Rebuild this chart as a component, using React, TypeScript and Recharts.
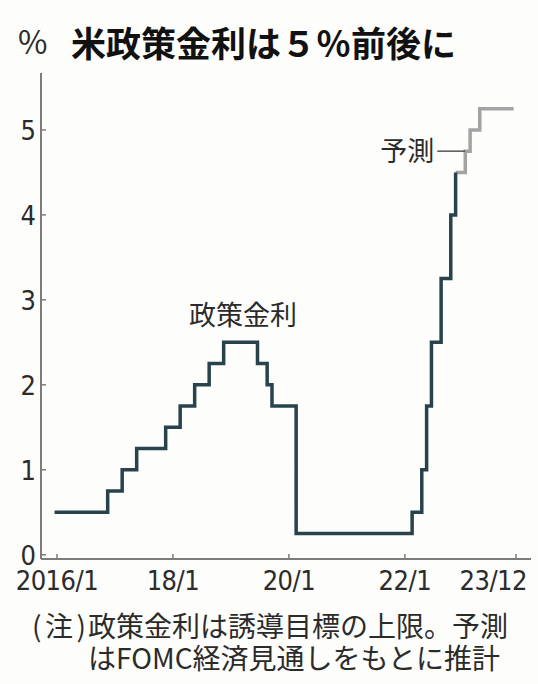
import { LineChart, Line, XAxis, YAxis, ReferenceLine, ReferenceDot } from 'recharts'

// months counted from 2016/1 (= 0); each change takes effect at the start of its month
const policyMonths = [0, 11, 14, 17, 23, 26, 29, 32, 35, 42, 44, 45, 50, 74, 76, 77, 78, 80, 82, 83]
const policyRates = [0.5, 0.75, 1.0, 1.25, 1.5, 1.75, 2.0, 2.25, 2.5, 2.25, 2.0, 1.75, 0.25, 0.5, 1.0, 1.75, 2.5, 3.25, 4.0, 4.5]
const forecastMonths = [83, 85, 86, 88, 95]
const forecastRates = [4.5, 4.75, 5.0, 5.25, 5.25]

// labels sit in the middle of their month
const xTickMonths = [0.5, 24.5, 48.5, 72.5, 95.5]
const xTickLabels = ['2016/1', '18/1', '20/1', '22/1', '23/12']
const yTicks = [0, 1, 2, 3, 4, 5]

const policy = policyMonths.map((month, i) => ({ month, rate: policyRates[i] }))
const forecast = forecastMonths.map((month, i) => ({ month, rate: forecastRates[i] }))

const W = 538
const H = 684
const NUM_FONT = "'Liberation Sans Narrow', 'DejaVu Sans Condensed', 'Noto Sans CJK JP', sans-serif"
const JP_FONT = "'Noto Sans CJK JP', sans-serif"
const AXIS = '#7c7c7c'
const INK = '#2b2b2b'
const LINE = '#29434c'
const GREY = '#a3a3a3'

function XTick(props: any) {
  const { x, y, payload } = props
  const i = xTickMonths.indexOf(payload.value)
  // the last label would run off the right edge, so it is pulled in
  const last = i === xTickMonths.length - 1
  return (
    <g>
      <line x1={x} x2={x} y1={y} y2={y - 5} stroke={AXIS} strokeWidth={1.5} />
      <text
        x={last ? x + 11 : x}
        y={y + 31}
        textAnchor={last ? 'end' : 'middle'}
        fontSize={27}
        letterSpacing={-0.5}
        fontFamily={NUM_FONT}
        fill={INK}
      >
        {xTickLabels[i]}
      </text>
    </g>
  )
}

function YTick(props: any) {
  const { x, y, payload } = props
  return (
    <g>
      <line x1={x} x2={x + 5} y1={y} y2={y} stroke={AXIS} strokeWidth={1.5} />
      <text x={x - 5} y={y + 10} textAnchor="end" fontSize={27} fontFamily={NUM_FONT} fill={INK}>
        {payload.value}
      </text>
    </g>
  )
}

export default function App() {
  return (
    <div style={{ position: 'absolute', left: 0, top: 0, width: W, height: H, background: '#fdfdfc' }}>
      <LineChart width={W} height={H} margin={{ top: 73, right: 7, bottom: 95, left: 11 }}>
        <XAxis
          type="number"
          dataKey="month"
          domain={[-2.8, 98.6]}
          allowDataOverflow
          ticks={xTickMonths}
          height={30}
          tickSize={0}
          tickMargin={0}
          tickLine={false}
          tick={XTick}
          axisLine={{ stroke: AXIS, strokeWidth: 2 }}
        />
        <YAxis
          type="number"
          domain={[-0.05, 5.67]}
          allowDataOverflow
          ticks={yTicks}
          width={30}
          tickSize={0}
          tickMargin={0}
          tickLine={false}
          tick={YTick}
          axisLine={{ stroke: AXIS, strokeWidth: 2 }}
        />
        <Line
          data={forecast}
          dataKey="rate"
          type="stepAfter"
          stroke={GREY}
          strokeWidth={3.5}
          strokeLinejoin="miter"
          dot={false}
          isAnimationActive={false}
        />
        <Line
          data={policy}
          dataKey="rate"
          type="stepAfter"
          stroke={LINE}
          strokeWidth={3.5}
          strokeLinejoin="miter"
          dot={false}
          isAnimationActive={false}
        />
        <ReferenceLine
          segment={[{ x: 79.2, y: 4.75 }, { x: 85, y: 4.75 }]}
          stroke="#555"
          strokeWidth={1.5}
          label={{ value: '予測', position: 'left', offset: 3, fontSize: 27, fontFamily: JP_FONT, fill: INK }}
        />
        <ReferenceDot
          x={39}
          y={2.5}
          r={0}
          fill="none"
          stroke="none"
          label={{ value: '政策金利', position: 'top', offset: 17, fontSize: 27, fontFamily: JP_FONT, fill: INK }}
        />
      </LineChart>
      <svg width={W} height={H} style={{ position: 'absolute', left: 0, top: 0, pointerEvents: 'none' }}>
        <text x={71} y={57} fontSize={35} fontWeight={700} fontFamily={JP_FONT} fill="#111">
          米政策金利は５％前後に
        </text>
        <text x={18} y={54} fontSize={32} fontFamily={JP_FONT} fill={INK}>%</text>
        <text x={32} y={637} fontSize={28} fontFamily={JP_FONT} fill={INK} textLength={54} lengthAdjust="spacing">
          (注)
        </text>
        <text x={88} y={637} fontSize={28} fontFamily={JP_FONT} fill={INK}>
          政策金利は誘導目標の上限。予測
        </text>
        <text x={88} y={669} fontSize={28} fontFamily={JP_FONT} fill={INK}>
          はFOMC経済見通しをもとに推計
        </text>
      </svg>
    </div>
  )
}
